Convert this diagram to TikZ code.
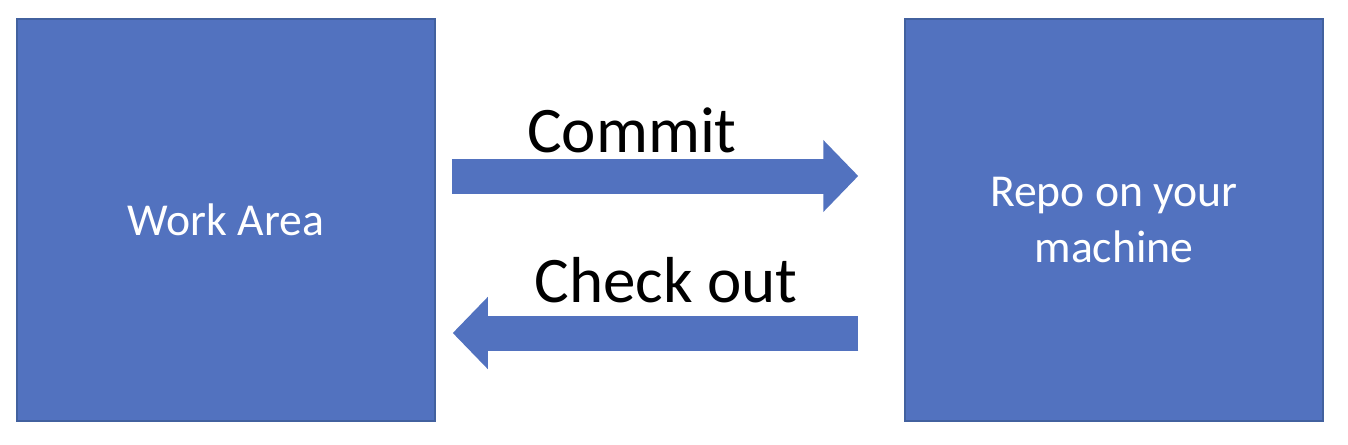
\documentclass[tikz,border=0pt]{standalone}
\usepackage{fontspec}
\setmainfont{Carlito}
\usetikzlibrary{arrows.meta}
\definecolor{boxblue}{HTML}{5272BF}
\definecolor{edgeblue}{HTML}{42619F}

\begin{document}
\begin{tikzpicture}[x=0.2mm,y=-0.2mm,
  area/.style={draw=edgeblue,line width=0.3mm,fill=boxblue,minimum width=83.6mm,
    minimum height=80.4mm,inner sep=0pt,text=white,font=\fontsize{26}{32}\selectfont,align=center},
  flow/.style={draw=boxblue,line width=7mm,-{Triangle[length=7mm,width=14mm]}},
  lbl/.style={anchor=base,font=\fontsize{37}{40}\selectfont}]
  \useasboundingbox (0,0) rectangle (1348,445);
  % the two places the files live
  \node[area] (work) at (226,220) {Work Area};
  \node[area] (repo) at (1114,220) {Repo on your\\machine};
  % commit goes right, check out comes back
  \draw[flow,shorten <=16*0.2mm,shorten >=46*0.2mm] ([yshift=44*0.2mm]work.east) -- ([yshift=44*0.2mm]repo.west);
  \draw[flow,shorten <=46*0.2mm,shorten >=17*0.2mm] ([yshift=-113*0.2mm]repo.west) -- ([yshift=-113*0.2mm]work.east);
  \node[lbl] (commit) at (632,152) {Commit};
  \node[lbl] (checkout) at (666,302) {Check out};
\end{tikzpicture}
\end{document}
